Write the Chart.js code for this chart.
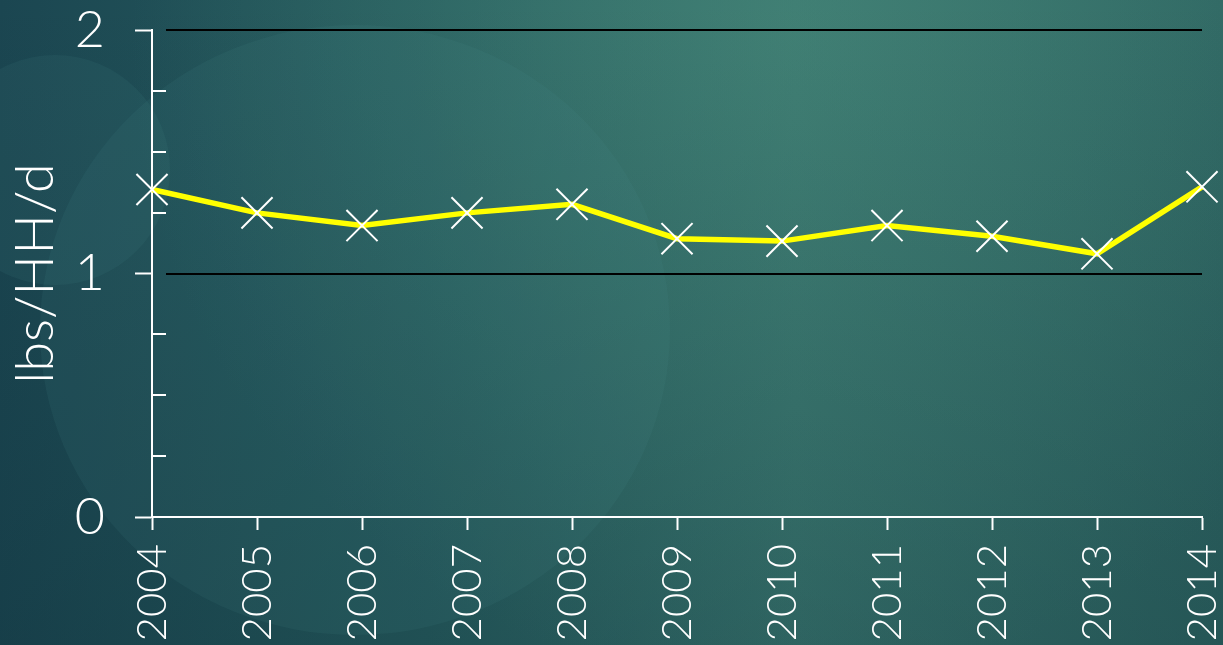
<!DOCTYPE html>
<html>
<head>
<meta charset="utf-8">
<script src="https://cdn.jsdelivr.net/npm/chart.js@4/dist/chart.umd.min.js"></script>
<style>
  html, body { margin: 0; padding: 0; background: #25595b; }
  #wrap { width: 1223px; height: 645px; position: relative; }
</style>
</head>
<body>
<div id="wrap"><canvas id="wasteChart"></canvas></div>
<script>
// data
const years = ['2004', '2005', '2006', '2007', '2008', '2009', '2010', '2011', '2012', '2013', '2014'];
const lbsPerHHDay = [1.345, 1.249, 1.197, 1.249, 1.284, 1.143, 1.133, 1.197, 1.153, 1.081, 1.356];
const majorTicks = [0, 1, 2];
const minorTicks = [0.25, 0.5, 0.75, 1.25, 1.5, 1.75];
const gridValues = [1, 2];

const FONT = 'Lato, "Open Sans", sans-serif';

// teal slide background with the soft circles
const backdrop = {
    id: 'backdrop',
    beforeDraw(chart) {
        const c = chart.ctx;
        const w = chart.width, h = chart.height;
        c.save();
        const base = c.createLinearGradient(0, 0, w, 0);
        base.addColorStop(0, '#1b4651');
        base.addColorStop(0.35, '#275d5f');
        base.addColorStop(0.65, '#3a7770');
        base.addColorStop(1, '#2e6562');
        c.fillStyle = base;
        c.fillRect(0, 0, w, h);

        const glow = c.createRadialGradient(780, 40, 0, 780, 40, 650);
        glow.addColorStop(0, 'rgba(70, 135, 120, 0.55)');
        glow.addColorStop(1, 'rgba(70, 135, 120, 0)');
        c.fillStyle = glow;
        c.fillRect(0, 0, w, h);

        const shade = c.createLinearGradient(0, 0, 0, h);
        shade.addColorStop(0, 'rgba(10, 40, 50, 0)');
        shade.addColorStop(1, 'rgba(10, 40, 50, 0.25)');
        c.fillStyle = shade;
        c.fillRect(0, 0, w, h);

        c.fillStyle = 'rgba(80, 150, 150, 0.10)';
        c.beginPath();
        c.ellipse(355, 330, 315, 305, 0, 0, Math.PI * 2);
        c.fill();
        c.beginPath();
        c.arc(55, 170, 115, 0, Math.PI * 2);
        c.fill();
        c.restore();
    }
};

// black gridlines at whole values and the small inside ticks
const axisExtras = {
    id: 'axisExtras',
    beforeDatasetsDraw(chart) {
        const c = chart.ctx;
        const y = chart.scales.y;
        const area = chart.chartArea;
        c.save();
        c.strokeStyle = '#000000';
        c.lineWidth = 2;
        gridValues.forEach(v => {
            const py = Math.round(y.getPixelForValue(v));
            c.beginPath();
            c.moveTo(area.left + 14, py);
            c.lineTo(area.right, py);
            c.stroke();
        });
        c.strokeStyle = '#ffffff';
        minorTicks.forEach(v => {
            const py = Math.round(y.getPixelForValue(v));
            c.beginPath();
            c.moveTo(area.left, py);
            c.lineTo(area.left + 14, py);
            c.stroke();
        });
        c.restore();
    }
};

new Chart(document.getElementById('wasteChart'), {
    type: 'line',
    data: {
        labels: years,
        datasets: [{
            data: lbsPerHHDay,
            borderColor: '#ffff00',
            borderWidth: 5.5,
            tension: 0,
            fill: false,
            clip: false,
            pointStyle: 'crossRot',
            pointRadius: 22,
            pointHoverRadius: 22,
            pointBorderColor: '#ffffff',
            pointBackgroundColor: '#ffffff',
            pointBorderWidth: 2
        }]
    },
    options: {
        responsive: true,
        maintainAspectRatio: false,
        animation: false,
        events: [],
        layout: { padding: 0, autoPadding: false },
        plugins: {
            legend: { display: false },
            tooltip: { enabled: false }
        },
        scales: {
            x: {
                offset: false,
                afterFit: s => {
                    s.height = 128;
                    s.paddingLeft = 0;
                    s.paddingRight = 21;
                },
                border: { display: true, color: '#ffffff', width: 2 },
                grid: {
                    drawOnChartArea: false,
                    tickColor: '#ffffff',
                    tickLength: 13,
                    tickWidth: 2
                },
                ticks: {
                    autoSkip: false,
                    minRotation: 90,
                    maxRotation: 90,
                    padding: 14,
                    color: '#ffffff',
                    font: { family: FONT, size: 42, weight: '300', lineHeight: 1.0 }
                }
            },
            y: {
                min: 0,
                max: 2,
                afterFit: s => {
                    s.width = 152;
                    s.paddingTop = 30;
                    s.paddingBottom = 0;
                    s.paddingLeft = 0;
                    s.paddingRight = 0;
                },
                border: { display: true, color: '#ffffff', width: 2 },
                grid: {
                    drawOnChartArea: false,
                    tickLength: 17,
                    tickWidth: 2,
                    tickColor: ctx => majorTicks.includes(ctx.tick.value) ? '#ffffff' : 'rgba(0,0,0,0)'
                },
                ticks: {
                    stepSize: 0.25,
                    padding: 30,
                    color: '#ffffff',
                    font: { family: FONT, size: 52, weight: '300' },
                    callback: v => majorTicks.includes(v) ? String(v) : ''
                },
                title: {
                    display: true,
                    text: 'lbs/HH/d',
                    color: '#ffffff',
                    font: { family: FONT, size: 54, weight: '300', lineHeight: 1.2 },
                    padding: { top: 3, bottom: 0 }
                }
            }
        }
    },
    plugins: [backdrop, axisExtras]
});
</script>
</body>
</html>
